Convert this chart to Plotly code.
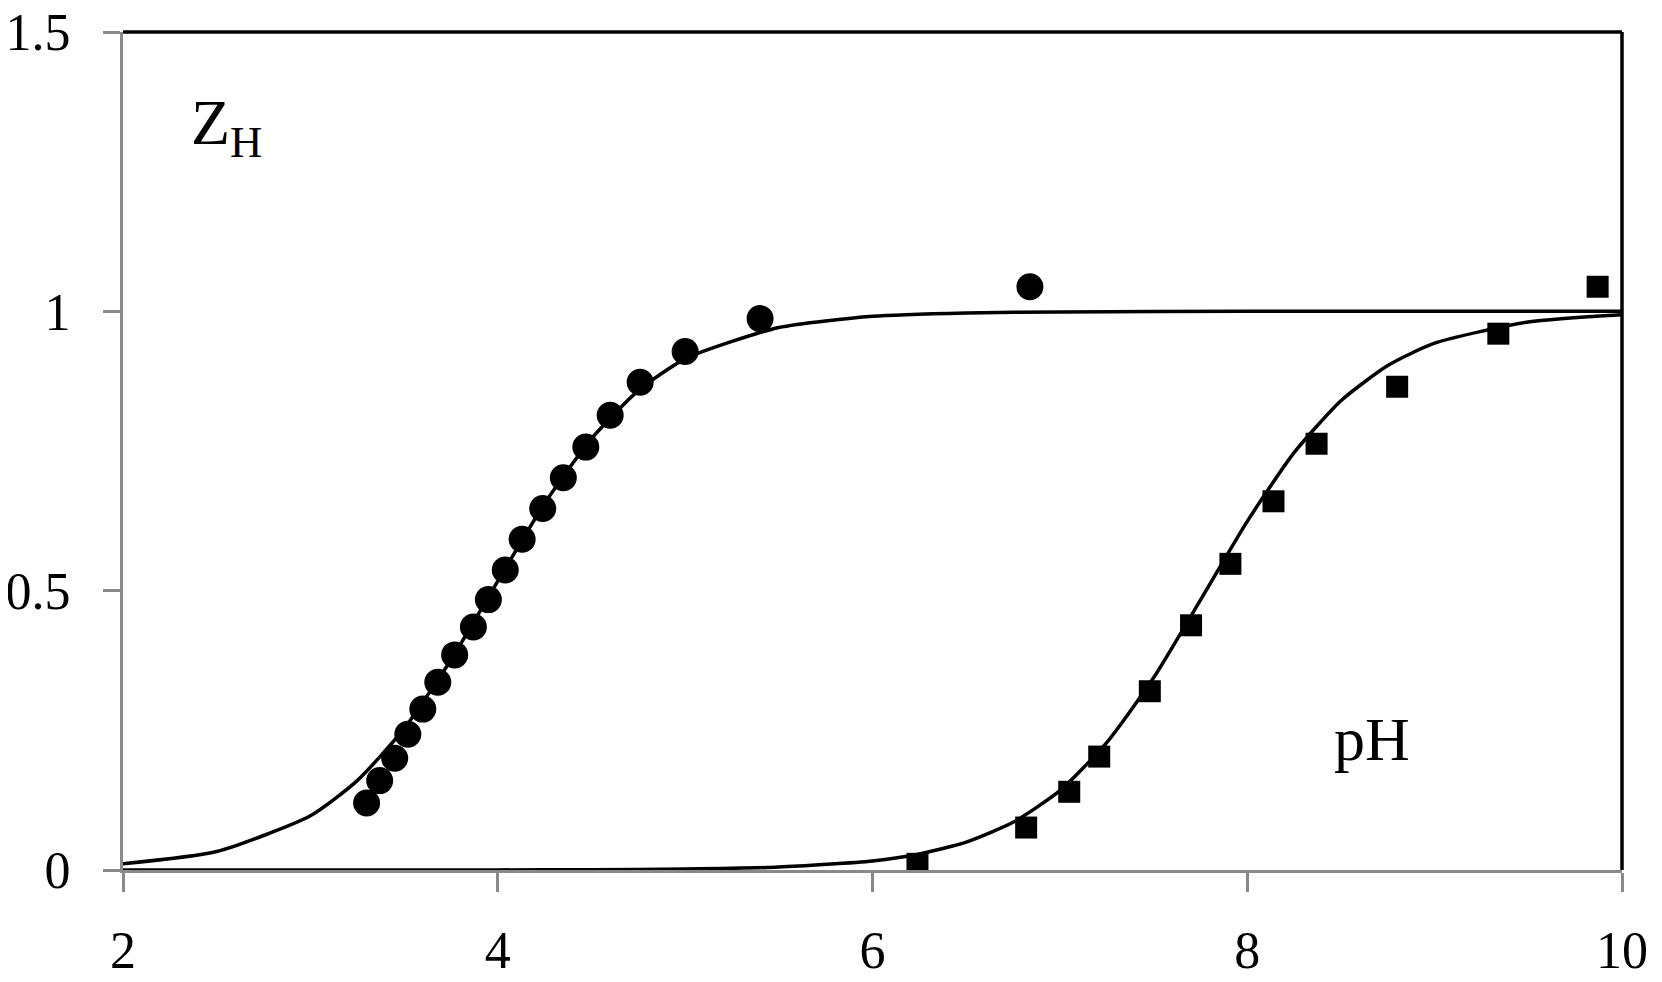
import plotly.graph_objects as go

# Measured data (circles, series 1)
ph_circles = [3.30, 3.37, 3.45, 3.52, 3.60, 3.68, 3.77, 3.87, 3.95, 4.04, 4.13, 4.24,
              4.35, 4.47, 4.60, 4.76, 5.00, 5.40, 6.84]
zh_circles = [0.120, 0.160, 0.200, 0.243, 0.288, 0.336, 0.385, 0.435, 0.484, 0.537, 0.592,
              0.647, 0.702, 0.757, 0.814, 0.873, 0.928, 0.987, 1.044]

# Measured data (squares, series 2)
ph_squares = [6.24, 6.82, 7.05, 7.21, 7.48, 7.70, 7.91, 8.14, 8.37, 8.80, 9.34, 9.87]
zh_squares = [0.011, 0.076, 0.140, 0.203, 0.320, 0.438, 0.548, 0.660, 0.763, 0.865, 0.960, 1.044]

# Fitted curves
ph_fit1 = [2.0, 2.5, 3.0, 3.25, 3.5, 3.75, 4.0, 4.25, 4.5, 4.75, 5.0, 5.5, 6.0, 6.5, 7.0, 8.0, 9.0, 10.0]
zh_fit1 = [0.011, 0.033, 0.097, 0.160, 0.253, 0.376, 0.517, 0.656, 0.772, 0.858, 0.915, 0.971,
           0.991, 0.997, 0.999, 1.0, 1.0, 1.0]

ph_fit2 = [2.0, 3.0, 4.0, 4.5, 5.0, 5.5, 6.0, 6.25, 6.5, 6.75, 7.0, 7.25, 7.5, 7.75, 8.0, 8.25,
           8.5, 8.75, 9.0, 9.5, 10.0]
zh_fit2 = [0.0, 0.0, 0.0002, 0.0005, 0.0017, 0.0052, 0.0163, 0.0287, 0.0499, 0.0854, 0.142,
           0.228, 0.344, 0.483, 0.624, 0.747, 0.840, 0.903, 0.943, 0.981, 0.994]

x_ticks = [2, 4, 6, 8, 10]
y_ticks = [0, 0.5, 1, 1.5]
y_tick_text = ["0", "0.5", "1", "1.5"]

FONT = "Liberation Serif"
GRAY = "#898989"

fig = go.Figure()
fig.add_trace(go.Scatter(x=ph_fit1, y=zh_fit1, mode="lines",
                         line=dict(color="black", width=3.5, shape="spline", smoothing=0.6),
                         showlegend=False, hoverinfo="skip"))
fig.add_trace(go.Scatter(x=ph_fit2, y=zh_fit2, mode="lines",
                         line=dict(color="black", width=3.5, shape="spline", smoothing=0.6),
                         showlegend=False, hoverinfo="skip"))
fig.add_trace(go.Scatter(x=ph_circles, y=zh_circles, mode="markers",
                         marker=dict(symbol="circle", size=27, color="black"),
                         showlegend=False))
fig.add_trace(go.Scatter(x=ph_squares, y=zh_squares, mode="markers",
                         marker=dict(symbol="square", size=22, color="black"),
                         showlegend=False))

# top and right borders (black)
fig.add_shape(type="line", xref="paper", yref="paper", x0=0, x1=1, y0=1, y1=1,
              line=dict(color="black", width=3.5), layer="above")
fig.add_shape(type="line", xref="paper", yref="paper", x0=1, x1=1, y0=0, y1=1,
              line=dict(color="black", width=3.5), layer="above")

fig.add_annotation(x=2.35, y=1.255, xref="x", yref="y", text="Z<sub>H</sub>",
                   showarrow=False, xanchor="left", yanchor="bottom",
                   font=dict(family=FONT, size=64, color="black"))
fig.add_annotation(x=8.665, y=0.235, xref="x", yref="y", text="pH",
                   showarrow=False, xanchor="center", yanchor="middle",
                   font=dict(family=FONT, size=62, color="black"))

# page body has an 8px margin: figure placed at (8, 8)
fig.update_layout(
    width=1646, height=966,
    margin=dict(l=115, r=32, t=24, b=104, autoexpand=False),
    paper_bgcolor="white", plot_bgcolor="white",
    font=dict(family=FONT, size=52, color="black"),
)
fig.update_xaxes(range=[2, 10], tickvals=x_ticks, ticktext=[str(v) for v in x_ticks],
                 showgrid=False, zeroline=False, showline=True, linecolor=GRAY, linewidth=3,
                 ticks="outside", ticklen=19, tickwidth=3, tickcolor=GRAY, automargin=False,
                 ticklabeloverflow="allow",
                 ticklabelstandoff=14, tickfont=dict(family=FONT, size=52, color="black"))
fig.update_yaxes(range=[0, 1.5], tickvals=y_ticks, ticktext=y_tick_text,
                 showgrid=False, zeroline=False, showline=True, linecolor=GRAY, linewidth=3,
                 ticks="outside", ticklen=17, tickwidth=3, tickcolor=GRAY, automargin=False,
                 ticklabeloverflow="allow",
                 ticklabelstandoff=22, tickfont=dict(family=FONT, size=52, color="black"))

fig.write_html("out.html")
